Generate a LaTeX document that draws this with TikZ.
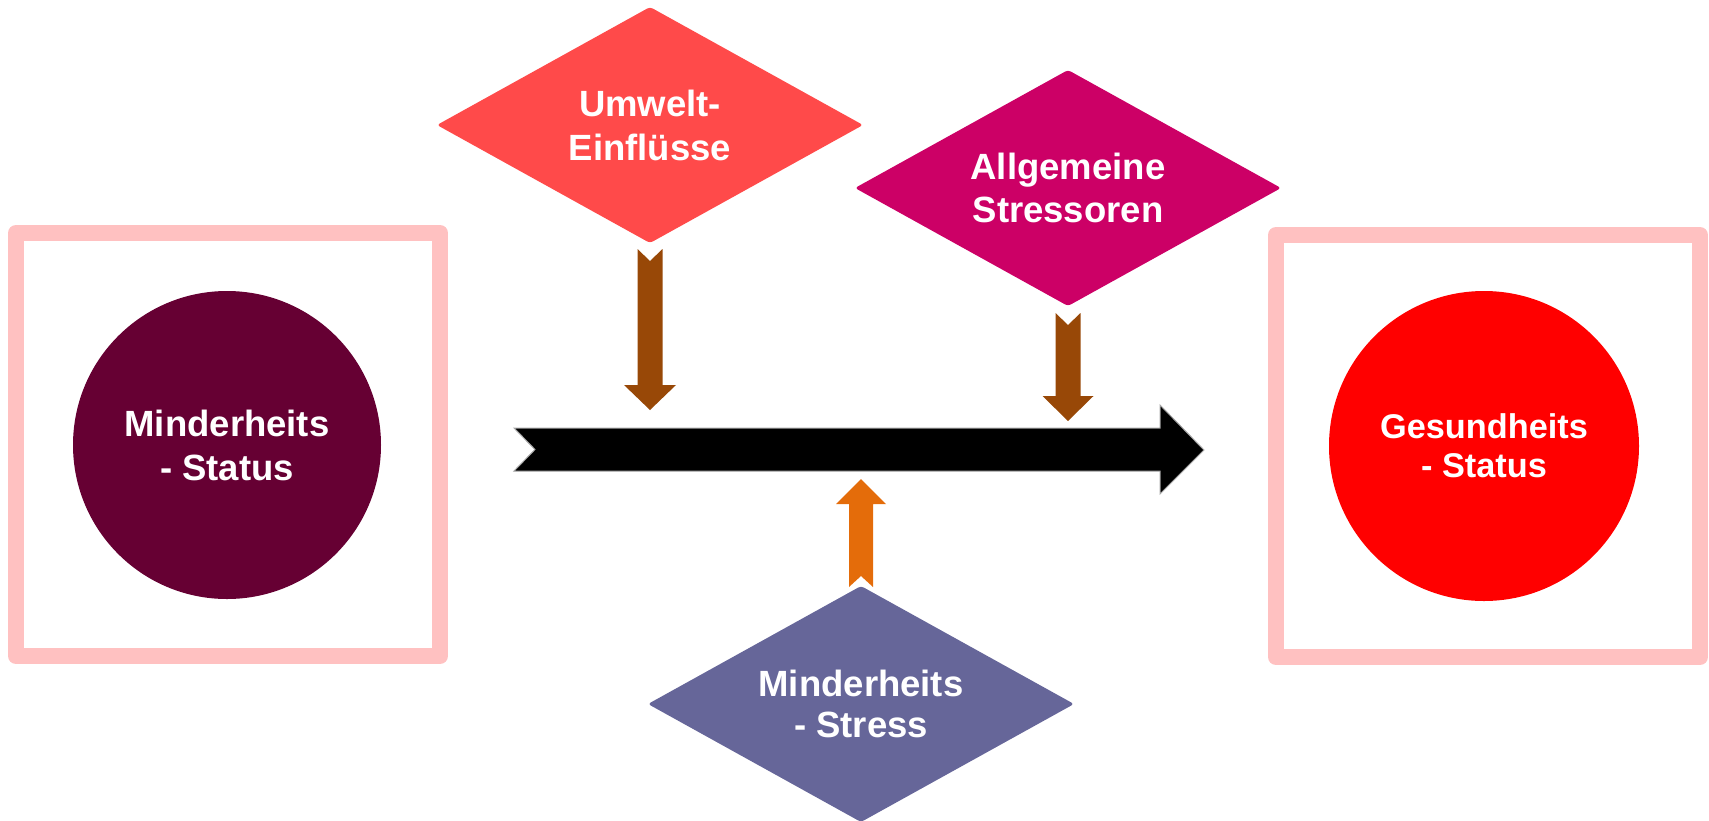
\documentclass[tikz,border=0pt]{standalone}
\usepackage{fontspec}
\setmainfont{Liberation Sans}
\usetikzlibrary{calc}
\definecolor{boxpink}{HTML}{FFC1C1}
\definecolor{maroon}{HTML}{660033}
\definecolor{redc}{HTML}{FF0000}
\definecolor{coral}{HTML}{FF4A4A}
\definecolor{magentac}{HTML}{CC0066}
\definecolor{slatec}{HTML}{666699}
\definecolor{brownc}{HTML}{984807}
\definecolor{orangec}{HTML}{E46C0A}
\tikzset{
  x=1pt, y=-1pt,
  frame/.style={draw=boxpink, line width=16pt, line join=round},
  disc/.style={circle, minimum size=#1, inner sep=0pt, outer sep=0pt, text=white, align=center},
  dia/.style={rectangle, minimum width=426pt, minimum height=236pt, inner sep=0pt, outer sep=0pt,
              text=white, align=center,
              path picture={\fill[#1, rounded corners=3pt]
                (path picture bounding box.north) -- (path picture bounding box.east)
                -- (path picture bounding box.south) -- (path picture bounding box.west) -- cycle;}},
  lbl/.style={font=\fontsize{36.5}{#1}\selectfont\bfseries},
}
\begin{document}
\begin{tikzpicture}
\useasboundingbox (0,0) rectangle (1709,820);
% frames
\draw[frame] (16,233) rectangle (440,656);
\draw[frame] (1276,235) rectangle (1700,657);
% circles
\node[disc=308pt, fill=maroon, lbl=44] (minst) at (227,445) {Minderheits\\- Status};
\node[disc=310pt, fill=redc, font=\fontsize{34.3}{39}\selectfont\bfseries] (gesst) at (1484,446) {Gesundheits\\- Status};
% diamonds
\node[dia=coral, lbl=44] (umw) at (650,125) {Umwelt-\\Einflüsse};
\node[dia=magentac, lbl=43] (allg) at (1068,188) {Allgemeine\\Stressoren};
\node[dia=slatec, lbl=41] (mstress) at (861,704) {Minderheits\\- Stress};
% main black arrow
\coordinate (mainL) at (514,428);
\fill[black, draw=gray!70, line width=1pt] (mainL) -- ++(646,0) -- ++(0,-23) -- ++(44,45) -- ++(-44,44)
  -- ++(0,-23) -- ++(-646,0) -- ++(21,-21.5) -- cycle;
% brown arrow from Umwelt
\coordinate (a1) at ($(umw.south)+(0,6)$);
\fill[brownc] (a1) ++(-12.5,0) -- ++(12.5,12) -- ++(12.5,-12) -- ++(0,136) -- ++(13.5,0)
  -- ++(-26,25) -- ++(-26,-25) -- ++(13.5,0) -- cycle;
% brown arrow from Allgemeine
\coordinate (a2) at ($(allg.south)+(0,7)$);
\fill[brownc] (a2) ++(-12.5,0) -- ++(12.5,12) -- ++(12.5,-12) -- ++(0,83) -- ++(13,0)
  -- ++(-25.5,25) -- ++(-25.5,-25) -- ++(13,0) -- cycle;
% orange arrow from Minderheits-Stress
\coordinate (a3) at ($(mstress.north)+(0,1)$);
\fill[orangec] (a3) ++(-12,0) -- ++(12,-11) -- ++(12,11) -- ++(0,-83) -- ++(13,0)
  -- ++(-25,-25) -- ++(-25,25) -- ++(13,0) -- cycle;
\end{tikzpicture}
\end{document}
